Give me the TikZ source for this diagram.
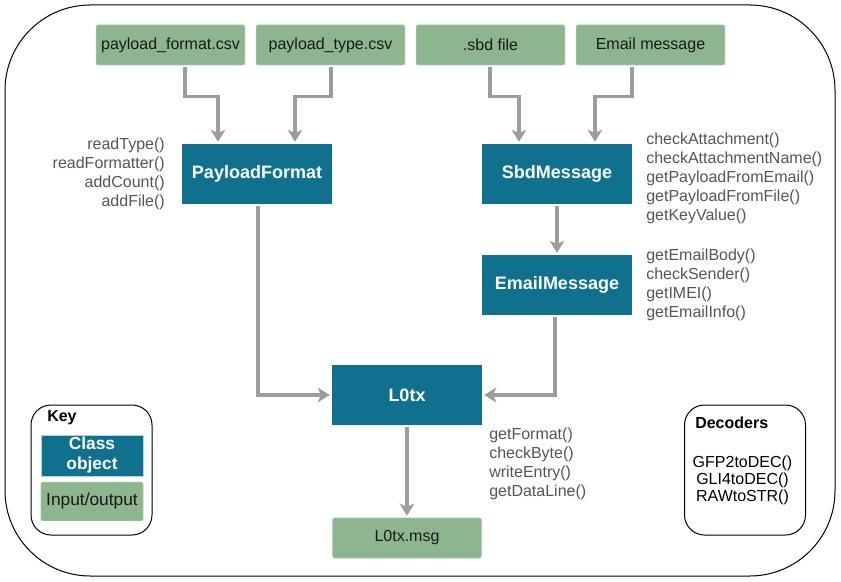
\documentclass[tikz,border=0pt]{standalone}
\usepackage{fontspec}
\setmainfont{Liberation Sans}
\usepackage{xcolor}
\usepackage{tikz}
\usetikzlibrary{arrows.meta,positioning,calc}
\definecolor{clsblue}{HTML}{10718F}
\definecolor{iogreen}{HTML}{8DB690}
\definecolor{flowgray}{HTML}{9C9C9C}
\definecolor{methgray}{HTML}{555555}
\tikzset{
  dcclass/.style={
    rectangle, fill=clsblue, draw=none, text=white,
    minimum width=112.5pt, minimum height=45pt, inner sep=1pt,
    font=\fontsize{13.5}{15}\selectfont\bfseries
  },
  dcio/.style={
    rectangle, rounded corners=1.5pt, fill=iogreen, draw=iogreen!80!white,
    line width=0.5pt, text=black!90,
    minimum width=111.5pt, minimum height=30pt, inner sep=1pt,
    font=\fontsize{12}{14}\selectfont
  },
  dcflow/.style={-{Stealth[length=9pt,width=11pt,inset=2.5pt]},draw=flowgray,line width=2.6pt},
  dcmethods/.style={text=methgray,inner sep=0pt,
    font=\fontsize{12}{14.3}\selectfont},
  dcpanel/.style={rectangle, rounded corners=15pt, draw=black, line width=0.75pt,
    minimum width=90.75pt, minimum height=97.5pt},
  dctitle/.style={inner sep=0pt,font=\fontsize{12}{14}\selectfont\bfseries}
}

\begin{document}
\begin{tikzpicture}[x=0.75pt,y=-0.75pt]
  \useasboundingbox (0,0) rectangle (841,581);
  % Outer frame
  \draw[line width=0.75pt,rounded corners=64pt] (5,5) rectangle (835,576);

  % Inputs
  \node[dcio] (pfcsv) at (170.5,45) {payload\_format.csv};
  \node[dcio] (ptcsv) at (330.5,45) {payload\_type.csv};
  \node[dcio] (sbdin) at (490.5,45) {.sbd file};
  \node[dcio] (mailin) at (650.5,45) {Email message};

  % Class objects
  \node[dcclass] (pform) at (257,174) {PayloadFormat};
  \node[dcclass] (sbdmsg) at (557,174) {SbdMessage};
  \node[dcclass] (mailmsg) at (557,285) {EmailMessage};
  \node[dcclass] (lzero) at (407,395) {L0tx};
  \node[dcio] (lzeromsg) at (407,538) {L0tx.msg};

  % Methods
  \node[dcmethods,align=right,anchor=east] (pformfn) at (165,174)
    {readType()\\readFormatter()\\addCount()\\addFile()};
  \node[dcmethods,align=left,anchor=west] (sbdfn) at (646,178)
    {checkAttachment()\\checkAttachmentName()\\getPayloadFromEmail()\\getPayloadFromFile()\\getKeyValue()};
  \node[dcmethods,align=left,anchor=west] (mailfn) at (646,285)
    {getEmailBody()\\checkSender()\\getIMEI()\\getEmailInfo()};
  \node[dcmethods,align=left,anchor=west] (lzerofn) at (489,464)
    {getFormat()\\checkByte()\\writeEntry()\\getDataLine()};

  % Connectors
  \draw[dcflow] ($(pfcsv.south)+(14.5,2)$) -- ++(0,29) -| ($(pform.north)+(-39,-2)$);
  \draw[dcflow] ($(ptcsv.south)+(0.5,2)$) -- ++(0,29) -| ($(pform.north)+(38,-2)$);
  \draw[dcflow] ($(sbdin.south)+(-0.5,2)$) -- ++(0,29) -| ($(sbdmsg.north)+(-38,-2)$);
  \draw[dcflow] ($(mailin.south)+(-18.5,2)$) -- ++(0,29) -| ($(sbdmsg.north)+(38,-2)$);
  \draw[dcflow] ($(sbdmsg.south)+(0,2)$) -- ($(mailmsg.north)+(0,-2)$);
  \draw[dcflow] ($(pform.south)+(1,2)$) |- ($(lzero.west)+(-2,0)$);
  \draw[dcflow] ($(mailmsg.south)+(-2,2)$) |- ($(lzero.east)+(2,0)$);
  \draw[dcflow] ($(lzero.south)+(0,2)$) -- ($(lzeromsg.north)+(0,-2)$);

  % Key
  \node[dcpanel] (keybox) at (91.5,470) {};
  \node[dctitle,anchor=west] (keytitle) at (47,418) {Key};
  \node[dcclass,minimum width=76.5pt,minimum height=30.5pt,draw=white!70!clsblue,line width=0.5pt,
    font=\fontsize{13}{15}\selectfont\bfseries,align=center] (keycls) at (92,455.5) {Class\\object};
  \node[dcio,minimum width=76.5pt,minimum height=29pt,font=\fontsize{13}{15}\selectfont]
    (keyio) at (92,501.5) {Input/output};

  % Decoders
  \node[dcpanel] (decbox) at (745,470) {};
  \node[dctitle,anchor=west] (dectitle) at (695,423) {Decoders};
  \node[font=\fontsize{12}{12.75}\selectfont,align=center,inner sep=0pt] (decfn) at (742.5,480)
    {GFP2toDEC()\\GLI4toDEC()\\RAWtoSTR()};
\end{tikzpicture}
\end{document}
